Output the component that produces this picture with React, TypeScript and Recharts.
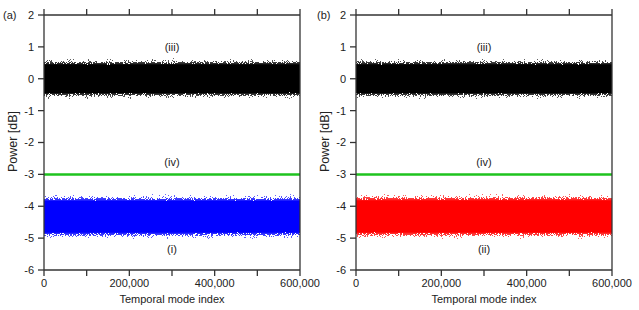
import React from 'react';
import { ComposedChart, Area, Line, XAxis, YAxis, ReferenceDot } from 'recharts';

// Temporal mode index sample positions (envelope read every 50,000 modes)
const modeIndex = [0, 50000, 100000, 150000, 200000, 250000, 300000, 350000, 400000, 450000, 500000, 550000, 600000];

// (iii) black trace: outer envelope of the noise band [dB]
const blackUpperA = [0.64, 0.62, 0.64, 0.62, 0.64, 0.62, 0.66, 0.64, 0.62, 0.66, 0.62, 0.64, 0.62];
const blackLowerA = [-0.66, -0.64, -0.66, -0.64, -0.64, -0.66, -0.64, -0.66, -0.64, -0.64, -0.66, -0.64, -0.66];
const blackUpperB = [0.62, 0.64, 0.62, 0.64, 0.62, 0.64, 0.62, 0.64, 0.62, 0.66, 0.64, 0.62, 0.62];
const blackLowerB = [-0.66, -0.64, -0.66, -0.64, -0.66, -0.64, -0.64, -0.66, -0.64, -0.66, -0.64, -0.64, -0.66];

// (i) blue trace envelope [dB]
const blueUpper = [-3.62, -3.64, -3.6, -3.64, -3.62, -3.6, -3.62, -3.64, -3.6, -3.62, -3.64, -3.62, -3.62];
const blueLower = [-5.04, -5.02, -5.06, -5.04, -5.02, -5.06, -5.04, -5.02, -5.04, -5.06, -5.02, -5.04, -5.04];

// (ii) red trace envelope [dB]
const redUpper = [-3.64, -3.62, -3.6, -3.62, -3.64, -3.58, -3.6, -3.62, -3.64, -3.62, -3.6, -3.64, -3.62];
const redLower = [-5.06, -5.04, -5.02, -5.06, -5.04, -5.06, -5.02, -5.04, -5.06, -5.02, -5.04, -5.06, -5.04];

// (iv) green reference level [dB]
const greenLevel = [-3, -3, -3, -3, -3, -3, -3, -3, -3, -3, -3, -3, -3];

const xTicks = [0, 100000, 200000, 300000, 400000, 500000, 600000];
const xLabeledTicks = [0, 200000, 400000, 600000];
const yTicks = [-6, -5, -4, -3, -2, -1, 0, 1, 2];

const FONT = 'Liberation Sans, Arial, sans-serif';
const AXIS = '#333333';

type PanelProps = {
  id: string;
  upper: number[];
  lower: number[];
  bandUpper: number[];
  bandLower: number[];
  bandColor: string;
  bandLabel: string;
};

function Speckle({ id, color, seed }: { id: string; color: string; seed: number }) {
  return (
    <filter id={id} x="0" y="-0.05" width="1" height="1.1" colorInterpolationFilters="sRGB">
      <feTurbulence type="fractalNoise" baseFrequency="0.95" numOctaves={2} seed={seed} result="noise" />
      <feColorMatrix in="noise" type="matrix" values="0 0 0 0 0  0 0 0 0 0  0 0 0 0 0  1 0 0 0 0" result="nA" />
      <feComposite in="SourceAlpha" in2="nA" operator="arithmetic" k1={0} k2={8} k3={-8} k4={0.5} result="diff" />
      <feComponentTransfer in="diff" result="mask">
        <feFuncA type="discrete" tableValues="0 1" />
      </feComponentTransfer>
      <feFlood floodColor={color} result="fl" />
      <feComposite in="fl" in2="mask" operator="in" result="dots" />
      <feComponentTransfer in="SourceAlpha" result="shade">
        <feFuncA type="linear" slope={0.7} intercept={0.4} />
      </feComponentTransfer>
      <feComposite in="dots" in2="shade" operator="in" />
    </filter>
  );
}

function Panel({ id, upper, lower, bandUpper, bandLower, bandColor, bandLabel }: PanelProps) {
  const data = modeIndex.map((x, i) => ({
    x,
    top: [lower[i], upper[i]],
    bottom: [bandLower[i], bandUpper[i]],
    ref: greenLevel[i],
  }));
  const tickStyle = { fontSize: 11, fill: '#222', fontFamily: FONT };
  const axisCommon = {
    stroke: AXIS,
    tickLine: { stroke: AXIS, strokeWidth: 1.3 },
    axisLine: { stroke: AXIS, strokeWidth: 1.3 },
  };
  const stops = (
    <>
      <stop offset="0%" stopColor="#000" stopOpacity={0.2} />
      <stop offset="8%" stopColor="#000" stopOpacity={0.4} />
      <stop offset="14%" stopColor="#000" stopOpacity={0.62} />
      <stop offset="19%" stopColor="#000" stopOpacity={1} />
      <stop offset="81%" stopColor="#000" stopOpacity={1} />
      <stop offset="86%" stopColor="#000" stopOpacity={0.62} />
      <stop offset="92%" stopColor="#000" stopOpacity={0.4} />
      <stop offset="100%" stopColor="#000" stopOpacity={0.2} />
    </>
  );
  return (
    <ComposedChart width={320} height={310} data={data} margin={{ top: 5, right: 10, left: 0, bottom: 0 }}>
      <defs>
        <linearGradient id={`g-${id}`} x1="0" y1="0" x2="0" y2="1">{stops}</linearGradient>
        <Speckle id={`f-top-${id}`} color="#000000" seed={id === 'a' ? 3 : 11} />
        <Speckle id={`f-bot-${id}`} color={bandColor} seed={id === 'a' ? 5 : 17} />
      </defs>
      <XAxis
        dataKey="x"
        type="number"
        domain={[0, 600000]}
        ticks={xTicks}
        height={40}
        tickSize={6}
        tickMargin={3}
        tick={tickStyle}
        interval={0}
        tickFormatter={(v: number) => (xLabeledTicks.includes(v) ? v.toLocaleString('en-US') : '')}
        label={{ value: 'Temporal mode index', position: 'insideBottom', offset: 7, style: { fontSize: 11, fill: '#222', fontFamily: FONT } }}
        {...axisCommon}
      />
      <XAxis
        xAxisId="t"
        orientation="top"
        dataKey="x"
        type="number"
        domain={[0, 600000]}
        ticks={xTicks}
        height={10}
        tickSize={6}
        interval={0}
        tick={tickStyle}
        tickFormatter={() => ''}
        {...axisCommon}
      />
      <YAxis
        type="number"
        domain={[-6, 2]}
        ticks={yTicks}
        width={44}
        tickSize={6}
        tickMargin={4}
        interval={0}
        tick={tickStyle}
        {...axisCommon}
      />
      <YAxis
        yAxisId="r"
        orientation="right"
        type="number"
        domain={[-6, 2]}
        ticks={yTicks}
        width={10}
        tickSize={6}
        interval={0}
        tick={tickStyle}
        tickFormatter={() => ''}
        {...axisCommon}
      />
      <Area dataKey="top" type="linear" stroke="none" fill={`url(#g-${id})`} fillOpacity={1}
        filter={`url(#f-top-${id})`} isAnimationActive={false} />
      <Area dataKey="bottom" type="linear" stroke="none" fill={`url(#g-${id})`} fillOpacity={1}
        filter={`url(#f-bot-${id})`} isAnimationActive={false} />
      <Line dataKey="ref" type="linear" stroke="#1ec31e" strokeWidth={2.5} dot={false} isAnimationActive={false} />
      <ReferenceDot x={300000} y={1} r={0} fill="none" stroke="none" ifOverflow="visible"
        label={{ value: '(iii)', position: 'center', style: { fontSize: 11, fill: '#222', fontFamily: FONT } }} />
      <ReferenceDot x={300000} y={-2.6} r={0} fill="none" stroke="none" ifOverflow="visible"
        label={{ value: '(iv)', position: 'center', style: { fontSize: 11, fill: '#222', fontFamily: FONT } }} />
      <ReferenceDot x={300000} y={-5.33} r={0} fill="none" stroke="none" ifOverflow="visible"
        label={{ value: bandLabel, position: 'center', style: { fontSize: 11, fill: '#222', fontFamily: FONT } }} />
    </ComposedChart>
  );
}

export default function App() {
  const txt = { fontSize: 11, fill: '#222', fontFamily: FONT } as const;
  const ylab = { fontSize: 12.5, fill: '#222', fontFamily: FONT } as const;
  return (
    <div style={{ position: 'absolute', left: 0, top: 0, width: 639, height: 310, background: '#fff', overflow: 'hidden' }}>
      <div style={{ position: 'absolute', left: 0, top: 0 }}>
        <Panel id="a" upper={blackUpperA} lower={blackLowerA} bandUpper={blueUpper} bandLower={blueLower} bandColor="#0000ff" bandLabel="(i)" />
      </div>
      <div style={{ position: 'absolute', left: 312, top: 0 }}>
        <Panel id="b" upper={blackUpperB} lower={blackLowerB} bandUpper={redUpper} bandLower={redLower} bandColor="#ff0000" bandLabel="(ii)" />
      </div>
      <svg width={639} height={310} style={{ position: 'absolute', left: 0, top: 0, pointerEvents: 'none' }}>
        <text x={3} y={15} dominantBaseline="central" {...txt}>(a)</text>
        <text x={317} y={15} dominantBaseline="central" {...txt}>(b)</text>
        <text x={13} y={141.5} textAnchor="middle" dominantBaseline="central" transform="rotate(-90 13 141.5)" {...ylab}>Power [dB]</text>
        <text x={325} y={141.5} textAnchor="middle" dominantBaseline="central" transform="rotate(-90 325 141.5)" {...ylab}>Power [dB]</text>
      </svg>
    </div>
  );
}
